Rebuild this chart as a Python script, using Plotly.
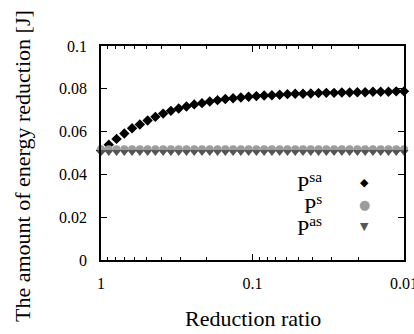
import plotly.graph_objects as go

# Data
ratio = [10 ** (-2 * i / 39) for i in range(40)]  # evenly spaced on the log axis, 1 -> 0.01
p_sa = [0.0512, 0.0539, 0.0566, 0.0591, 0.0616, 0.0633, 0.0652, 0.0669, 0.0684, 0.0697,
        0.0708, 0.0717, 0.0727, 0.0733, 0.0741, 0.0747, 0.0752, 0.0756, 0.0759, 0.0763,
        0.0766, 0.0769, 0.0770, 0.0772, 0.0775, 0.0777, 0.0777, 0.0778, 0.0780, 0.0781,
        0.0781, 0.0783, 0.0783, 0.0784, 0.0784, 0.0786, 0.0786, 0.0786, 0.0788, 0.0788]
p_s = [0.0517, 0.0517, 0.0517, 0.0517, 0.0517, 0.0517, 0.0517, 0.0517, 0.0517, 0.0517,
       0.0517, 0.0517, 0.0517, 0.0517, 0.0517, 0.0517, 0.0517, 0.0517, 0.0517, 0.0517,
       0.0517, 0.0517, 0.0517, 0.0517, 0.0517, 0.0517, 0.0517, 0.0517, 0.0517, 0.0517,
       0.0517, 0.0517, 0.0517, 0.0517, 0.0517, 0.0517, 0.0517, 0.0517, 0.0517, 0.0517]
p_as = [0.0505, 0.0505, 0.0505, 0.0505, 0.0505, 0.0505, 0.0505, 0.0505, 0.0505, 0.0505,
        0.0505, 0.0505, 0.0505, 0.0505, 0.0505, 0.0505, 0.0505, 0.0505, 0.0505, 0.0505,
        0.0505, 0.0505, 0.0505, 0.0505, 0.0505, 0.0505, 0.0505, 0.0505, 0.0505, 0.0505,
        0.0505, 0.0505, 0.0505, 0.0505, 0.0505, 0.0505, 0.0505, 0.0505, 0.0505, 0.0505]

x_tickvals = [1, 0.1, 0.01]
x_ticktext = ["1", "0.1", "0.01"]
y_tickvals = [0, 0.02, 0.04, 0.06, 0.08, 0.1]
y_ticktext = ["0", "0.02", "0.04", "0.06", "0.08", "0.1"]

series_names = ["P<sup>sa</sup>", "P<sup>s</sup>", "P<sup>as</sup>"]
series_colors = ["#000000", "#9c9c9c", "#555555"]
series_symbols = ["diamond", "circle", "triangle-down"]
legend_glyphs = ["\u25C6", "\u25CF", "\u25BC"]

FONT = "Liberation Serif"

fig = go.Figure()
for ys, name, col, sym, sz in zip([p_sa, p_s, p_as], series_names, series_colors,
                                  series_symbols, [8, 8, 8]):
    fig.add_trace(go.Scatter(x=ratio, y=ys, mode="markers", name=name,
                             marker=dict(symbol=sym, color=col, size=sz, line=dict(width=0)),
                             cliponaxis=False, showlegend=False))

W, H = 414, 334
ml, mr, mt, mb = 101, 10, 46, 74

fig.update_layout(
    width=W, height=H,
    margin=dict(l=ml, r=mr, t=mt, b=mb),
    paper_bgcolor="white", plot_bgcolor="white",
    font=dict(family=FONT, size=16, color="black"),
    showlegend=False,
)
fig.update_xaxes(
    type="log", range=[0, -2], automargin=False,
    tickmode="array", tickvals=x_tickvals, ticktext=x_ticktext,
    ticks="inside", ticklen=6, tickwidth=1, tickcolor="black",
    minor=dict(ticks="inside", ticklen=3, tickwidth=1, tickcolor="black", dtick="D1", showgrid=False),
    showline=True, linecolor="black", linewidth=1.5, mirror="allticks",
    showgrid=False, zeroline=False,
    ticklabelstandoff=8, ticklabeloverflow="allow",
    tickfont=dict(family=FONT, size=16),
)
fig.update_yaxes(
    range=[0, 0.1], automargin=False,
    tickmode="array", tickvals=y_tickvals, ticktext=y_ticktext,
    ticks="inside", ticklen=6, tickwidth=1, tickcolor="black",
    showline=True, linecolor="black", linewidth=1.5, mirror="allticks",
    showgrid=False, zeroline=False,
    ticklabelstandoff=9,
    tickfont=dict(family=FONT, size=16),
)

# Axis titles
fig.add_annotation(text="Reduction ratio", xref="paper", yref="paper",
                   x=0.5, y=-(318 - (H - mb)) / (H - mt - mb), xanchor="center", yanchor="middle",
                   showarrow=False, font=dict(family=FONT, size=22))
fig.add_annotation(text="The amount of energy reduction [J]", xref="paper", yref="paper",
                   x=-(ml - 22) / (W - ml - mr), y=((H - mb) - 166) / (H - mt - mb),
                   xanchor="center", yanchor="middle", textangle=-90,
                   showarrow=False, font=dict(family=FONT, size=22))

# Legend (text on the left, symbol on the right, like the reference)
pw, ph = W - ml - mr, H - mt - mb
rows_y = [182, 204, 226]
glyph_sizes = [11, 13, 11]
for name, col, glyph, gs, ry in zip(series_names, series_colors, legend_glyphs, glyph_sizes, rows_y):
    yp = ((H - mb) - ry) / ph
    fig.add_annotation(text=name, xref="paper", yref="paper", x=(324 - ml) / pw, y=yp,
                       xanchor="right", yanchor="middle", showarrow=False,
                       font=dict(family=FONT, size=22, color="black"))
    fig.add_annotation(text=glyph, xref="paper", yref="paper", x=(364 - ml) / pw, y=yp,
                       xanchor="center", yanchor="middle", showarrow=False,
                       font=dict(family="DejaVu Sans", size=gs, color=col))

fig.write_html("out.html", config={"displayModeBar": False},
               post_script="document.body.style.margin='0px';")
